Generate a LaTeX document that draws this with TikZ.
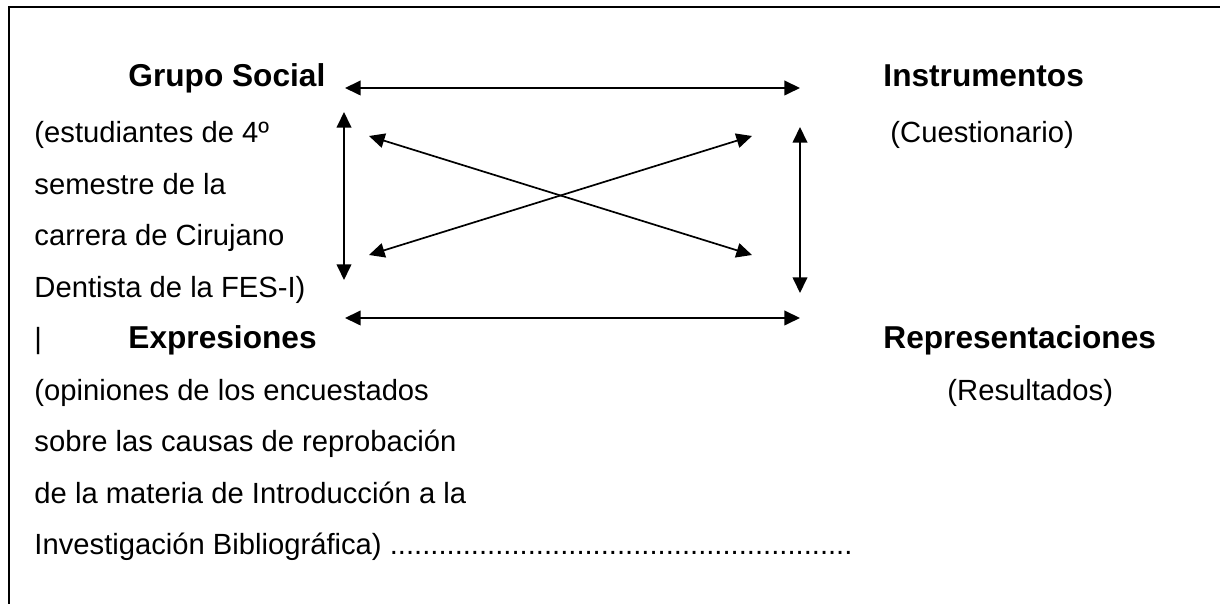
\documentclass[tikz,border=0pt]{standalone}
\usepackage{fontspec}
\setmainfont{Liberation Sans}
\usetikzlibrary{arrows.meta}

\begin{document}
\begin{tikzpicture}[x=0.411pt, y=-0.411pt]
\useasboundingbox (0,0) rectangle (1227,604);

% frame, open at the right and at the bottom
\draw [line width=0.85pt] (9,604) -- (9,7) -- (1220,7);

\begin{scope}[
    every node/.style={anchor=base west,inner sep=0pt,font=\fontsize{12}{14}\selectfont},
    heading/.style={font=\fontsize{13}{15}\selectfont\bfseries}]
    \node (grupo) at (128, 87) [heading] {Grupo Social};
    \node (grupo1) at (34, 143) {(estudiantes de 4º};
    \node (grupo2) at (34, 194.5) {semestre de la};
    \node (grupo3) at (34, 246) {carrera de Cirujano};
    \node (grupo4) at (34, 297.5) {Dentista de la FES-I)};

    % % right column
    \node (instr) at (883, 87) [heading] {Instrumentos};
    \node (instr1) at (890, 143) {(Cuestionario)};

    % % lower rows
    \node (bar) at (34, 349) {|};
    \node (expr) at (128, 349) [heading] {Expresiones};
    \node (expr1) at (34, 400.5) {(opiniones de los encuestados};
    \node (expr2) at (34, 452) {sobre las causas de reprobación};
    \node (expr3) at (34, 503.5) {de la materia de Introducción a la};
    \node (expr4) at (34, 555) {Investigación Bibliográfica) .........................................................};

    \node (repr) at (883, 349) [heading] {Representaciones};
    \node (repr1) at (947, 400.5) {(Resultados)};
\end{scope}

% arrow ends
\coordinate (top-l) at (345, 88);
\coordinate (top-r) at (800, 88);
\coordinate (bot-l) at (345, 318);
\coordinate (bot-r) at (800, 318);
\coordinate (left-u) at (344, 112);
\coordinate (left-d) at (344, 280);
\coordinate (right-u) at (800, 127);
\coordinate (right-d) at (800, 293);
\coordinate (cross-nw) at (369, 136);
\coordinate (cross-se) at (752, 255);
\coordinate (cross-sw) at (369, 255);
\coordinate (cross-ne) at (752, 136);

\begin{scope}[>={Triangle[length=6.4pt,width=6pt]},
              every edge/.style={draw=black,line width=0.7pt}]
    \path [<->] (top-l) edge (top-r);
    \path [<->] (bot-l) edge (bot-r);
    \path [<->] (left-u) edge (left-d);
    \path [<->] (right-u) edge (right-d);
    \path [<->] (cross-nw) edge (cross-se);
    \path [<->] (cross-sw) edge (cross-ne);
\end{scope}
\end{tikzpicture}
\end{document}
